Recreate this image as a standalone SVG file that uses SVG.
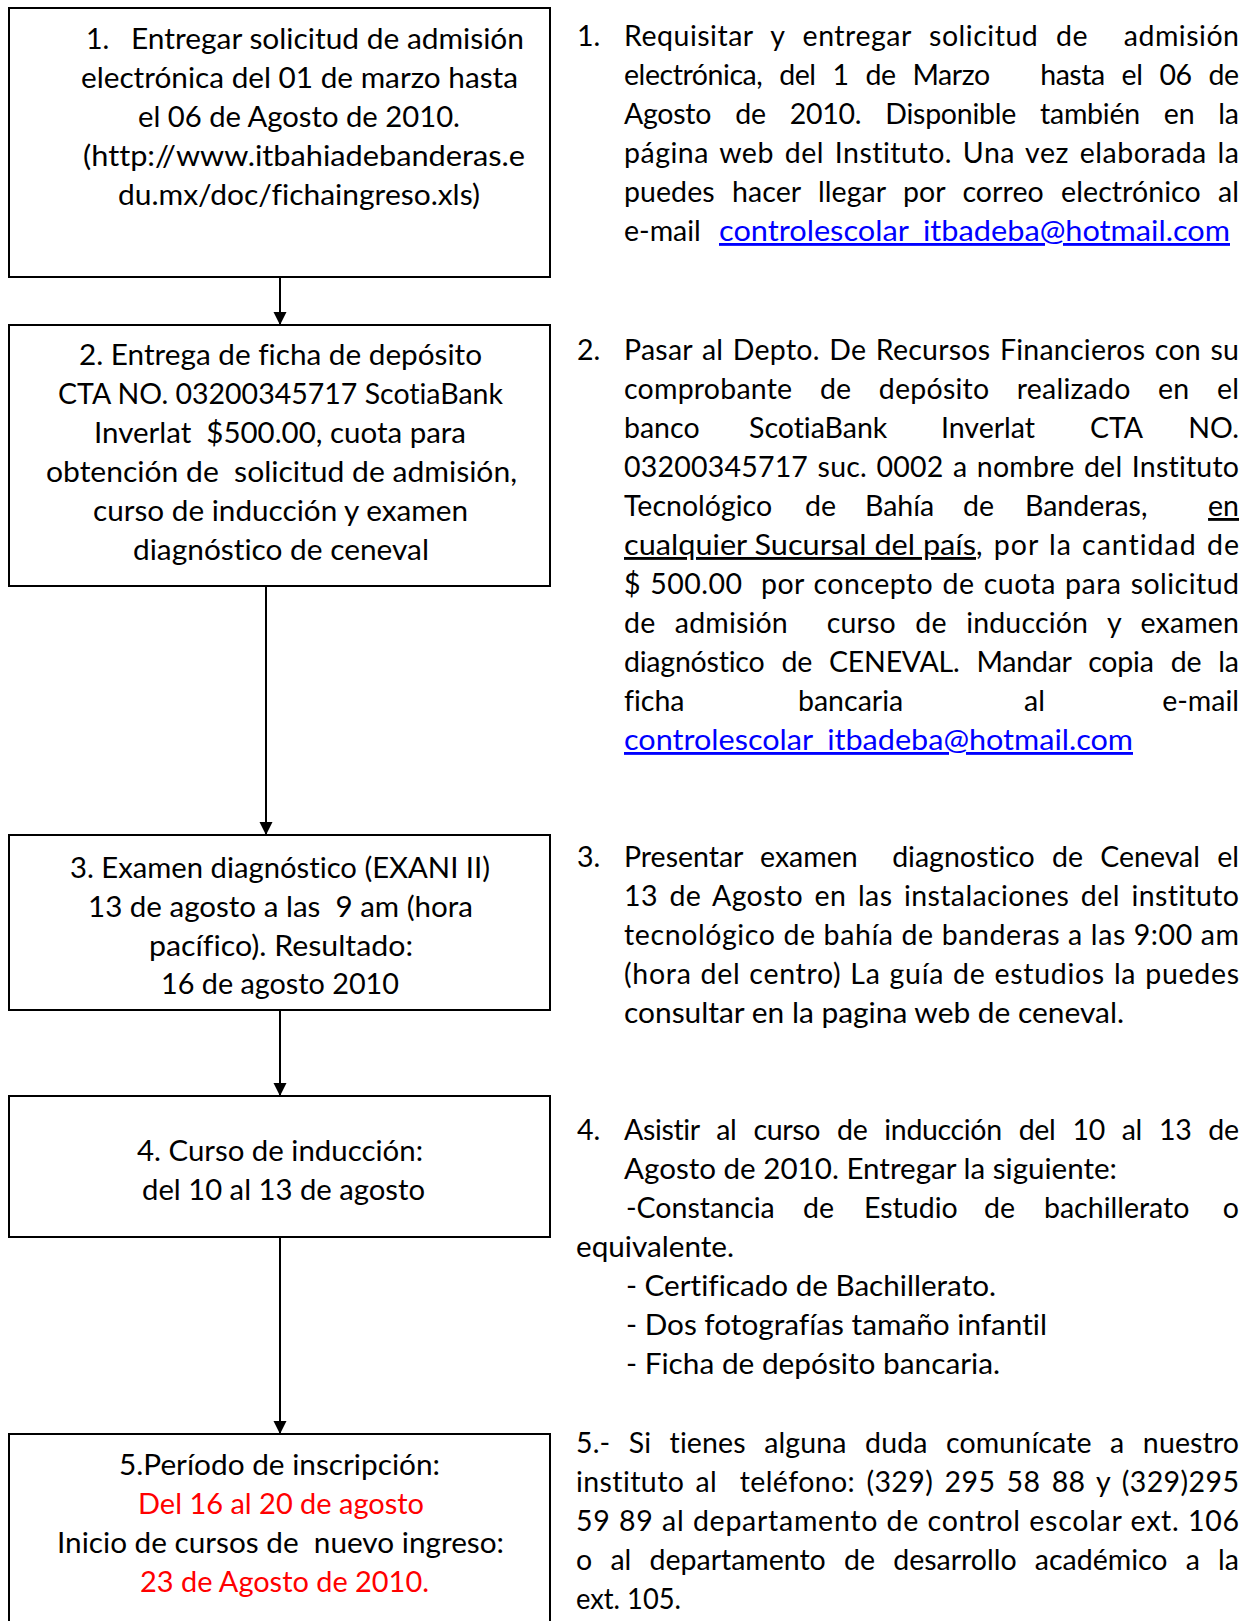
<svg xmlns="http://www.w3.org/2000/svg" width="1246" height="1621" viewBox="0 0 1246 1621">
<style>
.t{font-family:Lato,"Liberation Sans",sans-serif;font-size:28.5px;fill:#000;font-variant-ligatures:none;font-feature-settings:"liga" 0,"clig" 0}
.r{fill:#FF0000}
.lnk{fill:#0000FF;text-decoration:underline}
.u{text-decoration:underline}
.box{fill:#fff;stroke:#000;stroke-width:2}
.con{fill:none;stroke:#000;stroke-width:2;marker-end:url(#ah)}
</style>
<defs>
<marker id="ah" viewBox="0 0 10 10" refX="10" refY="5" markerWidth="13" markerHeight="14" markerUnits="userSpaceOnUse" orient="auto">
<path d="M0,0 L10,5 L0,10 z" fill="#000"/>
</marker>
</defs>
<rect width="1246" height="1621" fill="#fff"/>

<g id="connectors">
<line class="con" x1="280" y1="277" x2="280" y2="325"/>
<line class="con" x1="266" y1="586" x2="266" y2="835"/>
<line class="con" x1="280" y1="1010" x2="280" y2="1096"/>
<line class="con" x1="280" y1="1237" x2="280" y2="1434"/>
</g>

<g id="node1">
<rect class="box" x="9" y="8" width="541" height="269"/>
<text class="t" x="86" y="49">1.</text>
<text class="t" x="131" y="49" textLength="393" lengthAdjust="spacingAndGlyphs">Entregar solicitud de admisión</text>
<text class="t" x="81" y="88" textLength="437" lengthAdjust="spacingAndGlyphs">electrónica del 01 de marzo hasta</text>
<text class="t" x="138" y="127" textLength="322" lengthAdjust="spacingAndGlyphs">el 06 de Agosto de 2010.</text>
<text class="t" x="83" y="166" textLength="442" lengthAdjust="spacingAndGlyphs">(http://www.itbahiadebanderas.e</text>
<text class="t" x="118" y="205" textLength="362" lengthAdjust="spacingAndGlyphs">du.mx/doc/fichaingreso.xls)</text>
</g>

<g id="node2">
<rect class="box" x="9" y="325" width="541" height="261"/>
<text class="t" x="79" y="365" textLength="403" lengthAdjust="spacingAndGlyphs">2. Entrega de ficha de depósito</text>
<text class="t" x="58" y="404" textLength="445" lengthAdjust="spacingAndGlyphs">CTA NO. 03200345717 ScotiaBank</text>
<text class="t" x="94" y="443" textLength="372" lengthAdjust="spacingAndGlyphs" xml:space="preserve">Inverlat  $500.00, cuota para</text>
<text class="t" x="46" y="482" textLength="471" lengthAdjust="spacingAndGlyphs" xml:space="preserve">obtención de  solicitud de admisión,</text>
<text class="t" x="93" y="521" textLength="375" lengthAdjust="spacingAndGlyphs">curso de inducción y examen</text>
<text class="t" x="133" y="560" textLength="296" lengthAdjust="spacingAndGlyphs">diagnóstico de ceneval</text>
</g>

<g id="node3">
<rect class="box" x="9" y="835" width="541" height="175"/>
<text class="t" x="70" y="878" textLength="420" lengthAdjust="spacingAndGlyphs">3. Examen diagnóstico (EXANI II)</text>
<text class="t" x="88" y="917" textLength="385" lengthAdjust="spacingAndGlyphs" xml:space="preserve">13 de agosto a las  9 am (hora</text>
<text class="t" x="149" y="956" textLength="264" lengthAdjust="spacingAndGlyphs">pacífico). Resultado:</text>
<text class="t" x="161" y="994" textLength="238" lengthAdjust="spacingAndGlyphs">16 de agosto 2010</text>
</g>

<g id="node4">
<rect class="box" x="9" y="1096" width="541" height="141"/>
<text class="t" x="137" y="1161" textLength="286" lengthAdjust="spacingAndGlyphs">4. Curso de inducción:</text>
<text class="t" x="142" y="1200" textLength="283" lengthAdjust="spacingAndGlyphs">del 10 al 13 de agosto</text>
</g>

<g id="node5">
<rect class="box" x="9" y="1434" width="541" height="220"/>
<text class="t" x="119" y="1475" textLength="321" lengthAdjust="spacingAndGlyphs">5.Período de inscripción:</text>
<text class="t r" x="138" y="1514" textLength="286" lengthAdjust="spacingAndGlyphs">Del 16 al 20 de agosto</text>
<text class="t" x="57" y="1553" textLength="447" lengthAdjust="spacingAndGlyphs" xml:space="preserve">Inicio de cursos de  nuevo ingreso:</text>
<text class="t r" x="140" y="1592" textLength="289" lengthAdjust="spacingAndGlyphs">23 de Agosto de 2010.</text>
</g>

<g id="desc1">
<text class="t" x="577" y="46">1.</text>
<text class="t" x="624" y="46" style="word-spacing:10px" textLength="615" lengthAdjust="spacing" xml:space="preserve">Requisitar y entregar solicitud de  admisión</text>
<text class="t" x="624" y="85" style="word-spacing:10px" textLength="615" lengthAdjust="spacing" xml:space="preserve">electrónica, del 1 de Marzo   hasta el 06 de</text>
<text class="t" x="624" y="124" style="word-spacing:17px" textLength="615" lengthAdjust="spacing">Agosto de 2010. Disponible también en la</text>
<text class="t" x="624" y="163" style="word-spacing:3px" textLength="615" lengthAdjust="spacing">página web del Instituto. Una vez elaborada la</text>
<text class="t" x="624" y="202" style="word-spacing:10px" textLength="615" lengthAdjust="spacing">puedes hacer llegar por correo electrónico al</text>
<text class="t" x="624" y="241">e-mail</text>
<text class="t lnk" x="719" y="241" textLength="511" lengthAdjust="spacingAndGlyphs">controlescolar_itbadeba@hotmail.com</text>
</g>

<g id="desc2">
<text class="t" x="577" y="360">2.</text>
<text class="t" x="624" y="360" style="word-spacing:2px" textLength="615" lengthAdjust="spacing">Pasar al Depto. De Recursos Financieros con su</text>
<text class="t" x="624" y="399" style="word-spacing:20px" textLength="615" lengthAdjust="spacing">comprobante de depósito realizado en el</text>
<text class="t" y="438"><tspan x="624">banco</tspan><tspan x="749">ScotiaBank</tspan><tspan x="941">Inverlat</tspan><tspan x="1090">CTA</tspan></text>
<text class="t" x="1239" y="438" text-anchor="end">NO.</text>
<text class="t" x="624" y="477" style="word-spacing:2px" textLength="615" lengthAdjust="spacing">03200345717 suc. 0002 a nombre del Instituto</text>
<text class="t" y="516"><tspan x="624">Tecnológico</tspan><tspan x="805">de</tspan><tspan x="865">Bahía</tspan><tspan x="963">de</tspan><tspan x="1025">Banderas,</tspan></text>
<text class="t u" x="1239" y="516" text-anchor="end">en</text>
<text class="t u" x="624" y="555" textLength="352" lengthAdjust="spacingAndGlyphs">cualquier Sucursal del país</text>
<text class="t" x="976" y="555" style="word-spacing:2px" textLength="263" lengthAdjust="spacing">, por la cantidad de</text>
<text class="t" x="624" y="594" style="word-spacing:1.5px" textLength="615" lengthAdjust="spacing" xml:space="preserve">$ 500.00  por concepto de cuota para solicitud</text>
<text class="t" x="624" y="633" style="word-spacing:12px" textLength="615" lengthAdjust="spacing" xml:space="preserve">de admisión  curso de inducción y examen</text>
<text class="t" x="624" y="672" style="word-spacing:10px" textLength="615" lengthAdjust="spacing">diagnóstico de CENEVAL. Mandar copia de la</text>
<text class="t" y="711"><tspan x="624">ficha</tspan><tspan x="798">bancaria</tspan><tspan x="1024">al</tspan></text>
<text class="t" x="1239" y="711" text-anchor="end">e-mail</text>
<text class="t lnk" x="624" y="750" textLength="509" lengthAdjust="spacingAndGlyphs">controlescolar_itbadeba@hotmail.com</text>
</g>

<g id="desc3">
<text class="t" x="577" y="867">3.</text>
<text class="t" x="624" y="867" style="word-spacing:10px" textLength="615" lengthAdjust="spacing" xml:space="preserve">Presentar examen  diagnostico de Ceneval el</text>
<text class="t" x="624" y="906" style="word-spacing:4px" textLength="615" lengthAdjust="spacing">13 de Agosto en las instalaciones del instituto</text>
<text class="t" x="624" y="945" textLength="615" lengthAdjust="spacing">tecnológico de bahía de banderas a las 9:00 am</text>
<text class="t" x="624" y="984" style="word-spacing:1px" textLength="615" lengthAdjust="spacing">(hora del centro) La guía de estudios la puedes</text>
<text class="t" x="624" y="1023" textLength="500" lengthAdjust="spacingAndGlyphs">consultar en la pagina web de ceneval.</text>
</g>

<g id="desc4">
<text class="t" x="577" y="1140">4.</text>
<text class="t" x="624" y="1140" style="word-spacing:10px" textLength="615" lengthAdjust="spacing">Asistir al curso de inducción del 10 al 13 de</text>
<text class="t" x="624" y="1179" textLength="493" lengthAdjust="spacingAndGlyphs">Agosto de 2010. Entregar la siguiente:</text>
<text class="t" y="1218"><tspan x="626">-Constancia</tspan><tspan x="803">de</tspan><tspan x="864">Estudio</tspan><tspan x="984">de</tspan><tspan x="1044">bachillerato</tspan></text>
<text class="t" x="1239" y="1218" text-anchor="end">o</text>
<text class="t" x="576" y="1257" textLength="158" lengthAdjust="spacingAndGlyphs">equivalente.</text>
<text class="t" x="626" y="1296" textLength="370" lengthAdjust="spacingAndGlyphs">- Certificado de Bachillerato.</text>
<text class="t" x="626" y="1335" textLength="421" lengthAdjust="spacingAndGlyphs">- Dos fotografías tamaño infantil</text>
<text class="t" x="626" y="1374" textLength="374" lengthAdjust="spacingAndGlyphs">- Ficha de depósito bancaria.</text>
</g>

<g id="desc5">
<text class="t" x="576" y="1453" style="word-spacing:11px" textLength="663" lengthAdjust="spacing">5.- Si tienes alguna duda comunícate a nuestro</text>
<text class="t" x="576" y="1492" style="word-spacing:3.5px" textLength="663" lengthAdjust="spacing" xml:space="preserve">instituto al  teléfono: (329) 295 58 88 y (329)295</text>
<text class="t" x="576" y="1531" style="word-spacing:0.5px" textLength="663" lengthAdjust="spacing">59 89 al departamento de control escolar ext. 106</text>
<text class="t" x="576" y="1570" style="word-spacing:11px" textLength="663" lengthAdjust="spacing">o al departamento de desarrollo académico a la</text>
<text class="t" x="576" y="1609" textLength="105" lengthAdjust="spacingAndGlyphs">ext. 105.</text>
</g>
</svg>
